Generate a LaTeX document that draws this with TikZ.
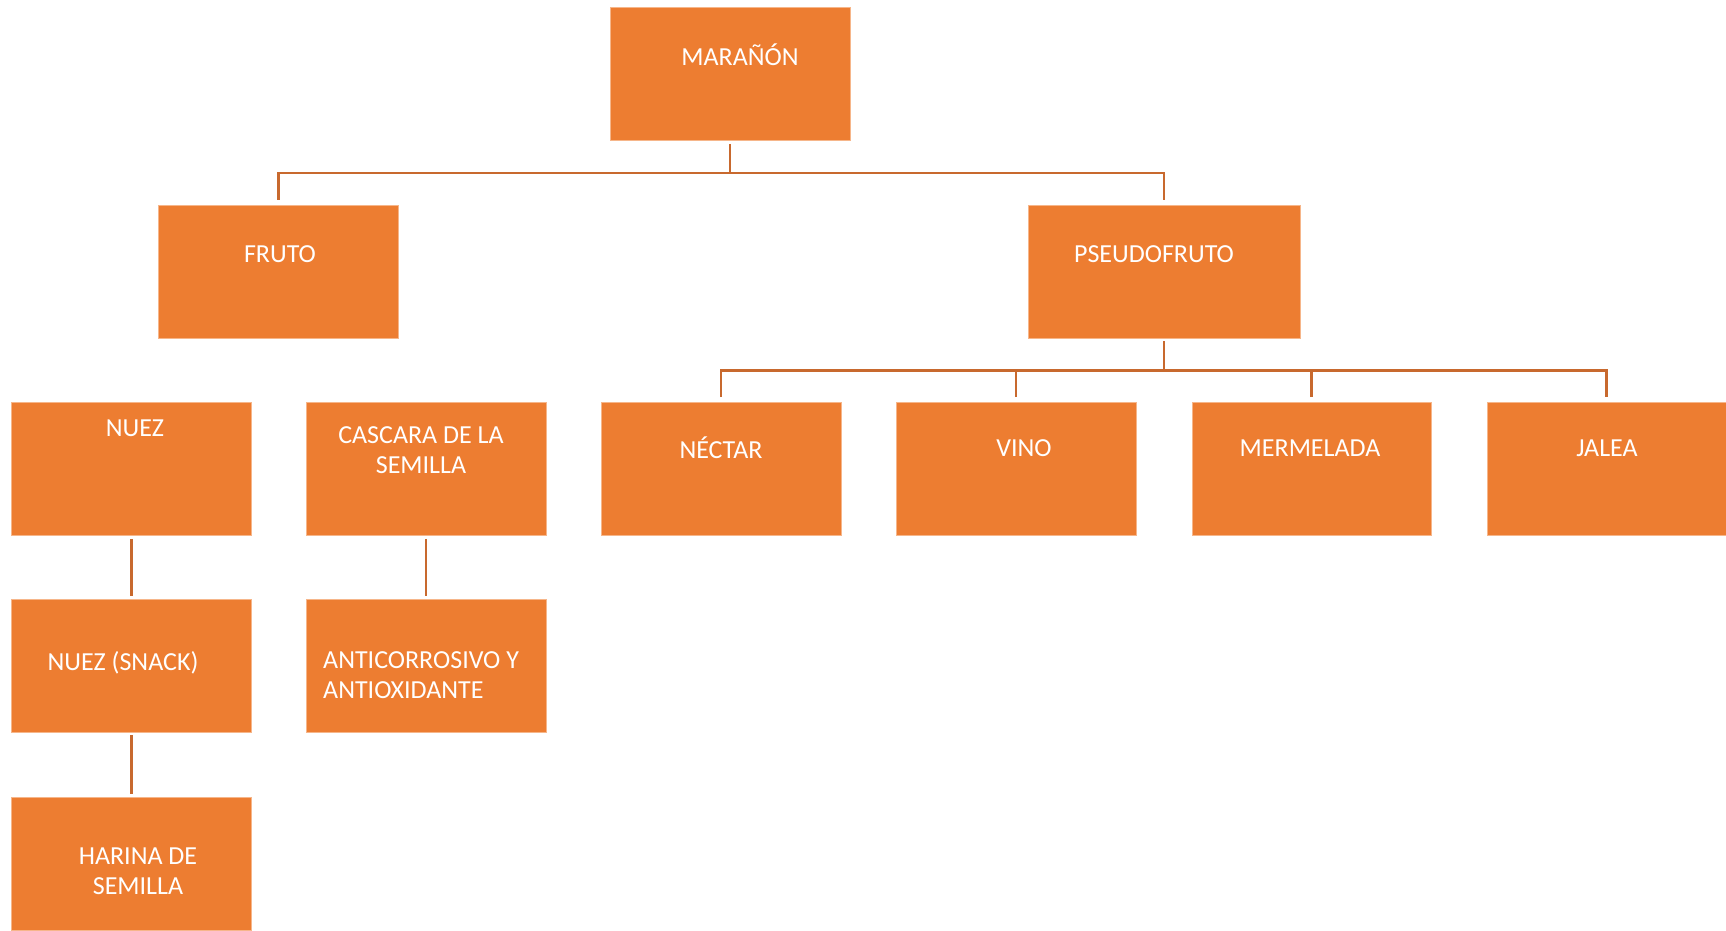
\documentclass[tikz,border=0pt]{standalone}
\usepackage{fontspec}
\setmainfont{Carlito}
\definecolor{boxorange}{HTML}{ED7D31}
\definecolor{boxedge}{HTML}{F6B68A}
\definecolor{linkbrown}{HTML}{C8692E}
\usepackage{tikz}
\usetikzlibrary{positioning,calc}

\begin{document}
\begin{tikzpicture}[x=1pt,y=-1pt,
    box/.style={fill=boxorange,draw=boxedge,line width=0.8pt,minimum width=240pt,minimum height=133pt,inner sep=0pt},
    lbl/.style={text=white,font=\fontsize{26}{30}\selectfont,inner sep=0pt},
    link/.style={linkbrown,line width=2.8pt}]
    \useasboundingbox (0,0) rectangle (1726,931);
    % level 0
    \node[box] (maranon) at (730,74) {};
    \node[lbl] (tmaranon) at (740,55) {MARAÑÓN};
    % level 1
    \node[box] (fruto) at (278.5,271.5) {};
    \node[lbl] (tfruto) at (280,254) {FRUTO};
    \node[box,minimum width=272pt] (pseudo) at (1164,271.5) {};
    \node[lbl] (tpseudo) at (1154,254) {PSEUDOFRUTO};
    % level 2
    \node[box] (nuez) at (131.5,469) {};
    \node[lbl] (tnuez) at (135,428) {NUEZ};
    \node[box] (cascara) at (426,469) {};
    \node[lbl,align=center] (tcascara) at (421,450) {CASCARA DE LA\\ SEMILLA};
    \node[box] (nectar) at (721,469) {};
    \node[lbl] (tnectar) at (721,448) {NÉCTAR};
    \node[box] (vino) at (1016,469) {};
    \node[lbl] (tvino) at (1024,448) {VINO};
    \node[box,minimum width=239pt] (mermelada) at (1311.5,469) {};
    \node[lbl] (tmermelada) at (1310,448) {MERMELADA};
    \node[box,minimum width=239pt] (jalea) at (1606.5,469) {};
    \node[lbl] (tjalea) at (1607,448) {JALEA};
    % level 3 and 4
    \node[box] (snack) at (131.5,665.5) {};
    \node[lbl] (tsnack) at (123,663) {NUEZ (SNACK)};
    \node[box] (anti) at (426,665.5) {};
    \node[lbl,align=left,anchor=west] (tanti) at (323,675) {ANTICORROSIVO Y\\ ANTIOXIDANTE};
    \node[box] (harina) at (131.5,864) {};
    \node[lbl,align=center] (tharina) at (138,871) {HARINA DE\\ SEMILLA};
    % connectors
    \draw[link] ([yshift=-3pt]maranon.south) -- ++(0,29) coordinate (bus1);
    \draw[link] ([yshift=5pt]fruto.north) |- (bus1) -| ([yshift=5pt]pseudo.north);
    \draw[link] ([yshift=-3pt]pseudo.south) -- ++(0,29) coordinate (bus2);
    \draw[link] ([yshift=5pt]nectar.north) |- (bus2) -| ([yshift=5pt]jalea.north);
    \draw[link] ([yshift=5pt]vino.north) -- (vino.north |- bus2);
    \draw[link] ([yshift=5pt]mermelada.north) -- (mermelada.north |- bus2);
    \draw[link] ([yshift=-3pt]nuez.south) -- ([yshift=3pt]snack.north);
    \draw[link] ([yshift=-3pt]cascara.south) -- ([yshift=3pt]anti.north);
    \draw[link] ([yshift=-3pt]snack.south) -- ([yshift=3pt]harina.north);
\end{tikzpicture}
\end{document}
